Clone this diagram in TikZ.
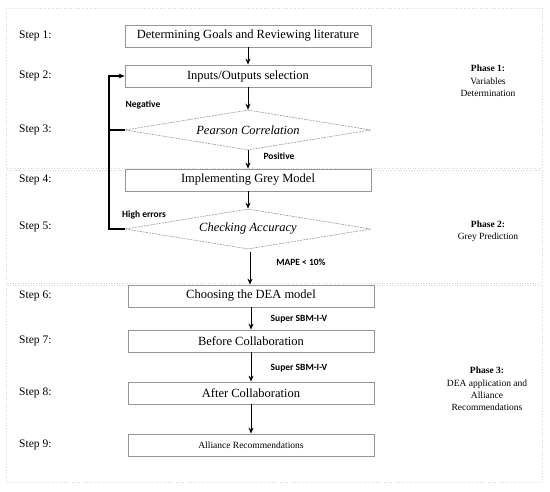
\documentclass[tikz,border=0pt]{standalone}
\usepackage{fontspec}
\setmainfont{Liberation Serif}
\newfontfamily\labfont{Carlito}
\usetikzlibrary{shapes.geometric,arrows.meta,calc}
\definecolor{boxgray}{RGB}{150,150,150}
\definecolor{phasegray}{RGB}{215,215,215}
\begin{document}
\begin{tikzpicture}[x=1pt,y=-1pt,
  stepbox/.style={draw=boxgray,line width=0.8pt,fill=white,minimum width=246pt,minimum height=22pt,inner sep=0pt,font=\fontsize{12.5}{14}\selectfont},
  decision/.style={draw=boxgray,dash pattern=on 2pt off 1pt,line width=0.6pt,shape=diamond,aspect=6.15,inner sep=0pt,minimum width=246pt,minimum height=40pt,font=\fontsize{12.5}{14}\selectfont\itshape},
  steplabel/.style={anchor=west,inner sep=0pt,font=\fontsize{11.5}{13}\selectfont},
  cond/.style={inner sep=0pt,font=\labfont\bfseries\fontsize{9.5}{11}\selectfont},
  phaselabel/.style={align=center,inner sep=0pt,font=\fontsize{9.5}{12.3}\selectfont},
  phasebox/.style={draw=phasegray,dotted,line width=0.6pt},
  arr/.style={-{Stealth[length=6pt,width=5pt]},line width=1pt},
  fb/.style={line width=1.4pt}]
\useasboundingbox (0,0) rectangle (550,491);
% phase frames
\draw[phasebox] (6,8) rectangle (542,168);
\draw[phasebox] (6,170) rectangle (542,283);
\draw[phasebox] (6,285) rectangle (542,482);
% step labels
\node[steplabel] (s1) at (19,36) {Step 1:};
\node[steplabel] (s2) at (19,76) {Step 2:};
\node[steplabel] (s3) at (19,130) {Step 3:};
\node[steplabel] (s4) at (19,180) {Step 4:};
\node[steplabel] (s5) at (19,227) {Step 5:};
\node[steplabel] (s6) at (19,296) {Step 6:};
\node[steplabel] (s7) at (19,341) {Step 7:};
\node[steplabel] (s8) at (19,393) {Step 8:};
\node[steplabel] (s9) at (19,445) {Step 9:};
% boxes
\node[stepbox] (b1) at (248,36) {Determining Goals and Reviewing literature};
\node[stepbox] (b2) at (248,76) {Inputs/Outputs selection};
\node[decision] (d1) at (248,130) {Pearson Correlation};
\node[stepbox] (b4) at (248,180) {Implementing Grey Model};
\node[decision] (d2) at (248,229) {Checking Accuracy};
\node[stepbox] (b6) at (251,296) {Choosing the DEA model};
\node[stepbox] (b7) at (251,341) {Before Collaboration};
\node[stepbox] (b8) at (251,393) {After Collaboration};
\node[stepbox,font=\fontsize{9.5}{11}\selectfont] (b9) at (251,445) {Alliance Recommendations};
% arrows
\draw[arr] (b1) -- (b2);
\draw[arr] (b2) -- (d1);
\draw[arr] (d1) -- (b4);
\draw[arr] (b4) -- (d2);
\draw[arr,shorten <=3pt] (d2.south) ++(2,0) coordinate (d2s) -- (d2s |- b6.north);
\draw[arr] (b6) -- (b7);
\draw[arr] (b7) -- (b8);
\draw[arr] (b8) -- (b9);
% feedback
\coordinate (fbtop) at (109,76);
\draw[fb] (d1.west) -- (d1.west -| fbtop);
\draw[fb] (d2.west) -| (fbtop) -- ++(8,0);
\draw[arr,line width=1.2pt] ($(fbtop)+(7,0)$) -- (b2.west);
% condition labels
\node[cond] (neg) at (143,105) {Negative};
\node[cond] (pos) at (279,156) {Positive};
\node[cond] (hi) at (144,215) {High errors};
\node[cond] (mape) at (301,262) {MAPE < 10\%};
\node[cond] (sup1) at (299,319) {Super SBM-I-V};
\node[cond] (sup2) at (299,368) {Super SBM-I-V};
% phase labels
\node[phaselabel] (p1) at (488,81) {\textbf{Phase 1:}\\Variables\\Determination};
\node[phaselabel] (p2) at (488,231) {\textbf{Phase 2:}\\Grey Prediction};
\node[phaselabel] (p3) at (487,389) {\textbf{Phase 3:}\\DEA application and\\Alliance\\Recommendations};
\end{tikzpicture}
\end{document}
